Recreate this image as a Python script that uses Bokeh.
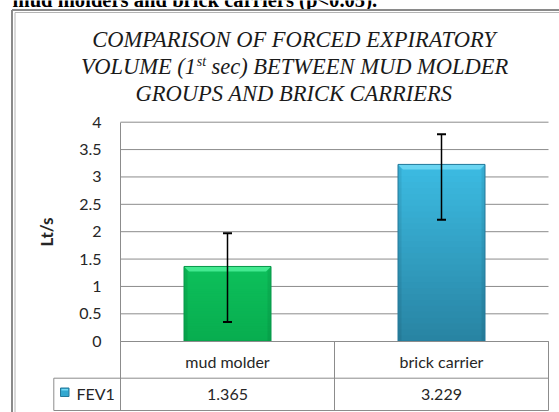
from bokeh.plotting import figure
from bokeh.models import ColumnDataSource, FixedTicker, Range1d, Whisker, TeeHead
from bokeh.core.properties import value
from bokeh.embed import file_html
from bokeh.resources import INLINE

# ---------------- data ----------------
CATEGORIES = ["mud molder", "brick carrier"]
SERIES_NAME = "FEV1"
FEV1 = [1.365, 3.229]
FEV1_LABELS = ["1.365", "3.229"]
ERR_UPPER = [1.97, 3.78]
ERR_LOWER = [0.35, 2.22]
Y_TICKS = [0, 0.5, 1, 1.5, 2, 2.5, 3, 3.5, 4]
Y_TICK_LABELS = ["0", "0.5", "1", "1.5", "2", "2.5", "3", "3.5", "4"]
Y_LABEL = "Lt/s"
TITLE_LINE1 = "COMPARISON OF FORCED EXPIRATORY"
TITLE_LINE2_A = "VOLUME (1"
TITLE_LINE2_SUP = "st"
TITLE_LINE2_B = "sec) BETWEEN MUD MOLDER"
TITLE_LINE3 = "GROUPS AND BRICK CARRIERS"
TOP_TEXT = "mud molders and brick carriers (p<0.05)."

# ---------------- layout (page pixels) ----------------
W, H = 559, 412
OX, OY = 0, 0
AX_X0 = 120.0      # page x of data x = 0
AX_Y0 = 340.7      # page y of data y = 0
PX_X = 214.0       # pixels per category
PX_Y = 54.75       # pixels per unit (Lt/s)
BASE_SHIFT = 0.34  # empirical baseline correction (fraction of font size)


def dx(px):
    return (px - AX_X0) / PX_X


def dy(py):
    return (AX_Y0 - py) / PX_Y


def ty(py, fs):
    # page baseline -> data y for text glyphs
    return dy(py - BASE_SHIFT * fs)


N = len(CATEGORIES)
X_POS = [i + 0.5 for i in range(N)]
BAR_W = 87.0 / PX_X

p = figure(width=W, height=H,
           x_range=Range1d(dx(OX), dx(OX + W)),
           y_range=Range1d(dy(OY + H), dy(OY)),
           output_backend="svg", toolbar_location=None, tools="",
           min_border=0)
p.outline_line_color = None
p.background_fill_color = "white"
p.border_fill_color = "white"
p.xgrid.visible = False
p.ygrid.visible = False

TXT = "#262626"
LINE = "#8c8c8c"
FONT = "Lato"

# ---------------- top document text (cut off) ----------------
TOP_FS = 20.6
p.text(x=[dx(12)], y=[ty(6.5, TOP_FS)], text=[TOP_TEXT], text_font=value("Liberation Serif"),
       text_font_style="bold", text_font_size=f"{TOP_FS}px", text_color="black",
       text_align="left", text_baseline="alphabetic")

# ---------------- outer frame (document chart border) ----------------
p.quad(left=[dx(11)], right=[dx(570)], top=[dy(9)], bottom=[dy(420)],
       fill_color="white", line_color=None)
p.line(x=[dx(11.5), dx(11.5)], y=[dy(9.5), dy(420)], line_color="#8a8a8a", line_width=2)
p.line(x=[dx(14.5), dx(14.5)], y=[dy(12.0), dy(420)], line_color="#b4b4b4", line_width=1)
p.line(x=[dx(11.5), dx(570)], y=[dy(9.5), dy(9.5)], line_color="#8a8a8a", line_width=2)
p.line(x=[dx(14.5), dx(570)], y=[dy(12.0), dy(12.0)], line_color="#b4b4b4", line_width=1)

# ---------------- title ----------------
TFS = 22.5
TCX = dx(293.5)
tkw = dict(text_font=value("Liberation Serif"), text_font_style="italic",
           text_color="#1a1a1a", text_baseline="alphabetic")
p.text(x=[TCX, TCX], y=[ty(46.5, TFS), ty(101, TFS)], text=[TITLE_LINE1, TITLE_LINE3],
       text_align="center", text_font_size=f"{TFS}px", **tkw)
xa_px = 195.5
p.text(x=[dx(xa_px)], y=[ty(74, TFS)], text=[TITLE_LINE2_A], text_align="right",
       text_font_size=f"{TFS}px", **tkw)
p.text(x=[dx(xa_px + 0.8)], y=[ty(66, 14)], text=[TITLE_LINE2_SUP], text_align="left",
       text_font_size="14px", **tkw)
p.text(x=[dx(xa_px + 15.5)], y=[ty(74, TFS)], text=[TITLE_LINE2_B], text_align="left",
       text_font_size=f"{TFS}px", **tkw)

# ---------------- gridlines ----------------
grid_y = [t for t in Y_TICKS if t > 0]
p.segment(x0=[0] * len(grid_y), x1=[N] * len(grid_y), y0=grid_y, y1=grid_y,
          line_color=LINE, line_width=1)

# ---------------- bars with gradient ----------------
BAR_TOP = ["#0dc05b", "#3cbce3"]
BAR_BOT = ["#08ad4f", "#2883a2"]
BAR_EDGE = ["#07984a", "#24799a"]
BEVEL = ["#4ef09a", "#72d9f5"]


def hex2rgb(h):
    h = h.lstrip("#")
    return tuple(int(h[i:i + 2], 16) for i in (0, 2, 4))


def mix(c1, c2, t):
    a, b = hex2rgb(c1), hex2rgb(c2)
    return "#%02x%02x%02x" % tuple(int(round(a[k] + (b[k] - a[k]) * t)) for k in range(3))


NS = 30
OVL = 1.5 / PX_Y
ql, qr, qb, qt, qc = [], [], [], [], []
for i, v in enumerate(FEV1):
    for k in range(NS):
        ql.append(X_POS[i] - BAR_W / 2)
        qr.append(X_POS[i] + BAR_W / 2)
        qb.append(v * k / NS)
        qt.append(min(v, v * (k + 1) / NS + OVL))
        qc.append(mix(BAR_BOT[i], BAR_TOP[i], (k + 0.5) / NS))
p.quad(left=ql, right=qr, bottom=qb, top=qt, fill_color=qc, line_color=None)

# bevel: top highlight trapezoid + darker side strips
bx = 5.0 / PX_X
by = 5.0 / PX_Y
tops_x, tops_y, sides_x, sides_y = [], [], [], []
for i, v in enumerate(FEV1):
    L, R = X_POS[i] - BAR_W / 2, X_POS[i] + BAR_W / 2
    tops_x.append([L, R, R - bx, L + bx])
    tops_y.append([v, v, v - by, v - by])
    sides_x.append([L, L + bx * 0.7, L + bx * 0.7, L])
    sides_y.append([v, v - by, 0, 0])
    sides_x.append([R, R - bx * 0.7, R - bx * 0.7, R])
    sides_y.append([v, v - by, 0, 0])
p.patches(xs=tops_x, ys=tops_y, fill_color=BEVEL, fill_alpha=0.85, line_color=None)
p.patches(xs=sides_x, ys=sides_y, fill_color="black", fill_alpha=0.07, line_color=None)
p.vbar(x=X_POS, top=FEV1, width=BAR_W, fill_color=None, line_color=BAR_EDGE, line_width=1)

# ---------------- error bars ----------------
err_src = ColumnDataSource(dict(base=X_POS, upper=ERR_UPPER, lower=ERR_LOWER))
p.add_layout(Whisker(source=err_src, base="base", upper="upper", lower="lower",
                     dimension="height", line_color="black", line_width=1.5, level="overlay",
                     upper_head=TeeHead(size=9, line_color="black", line_width=2),
                     lower_head=TeeHead(size=9, line_color="black", line_width=2)))

# ---------------- axes ----------------
ya = p.yaxis[0]
ya.fixed_location = 0
ya.bounds = (0, 4)
ya.ticker = FixedTicker(ticks=Y_TICKS)
ya.major_label_overrides = dict(zip(Y_TICKS, Y_TICK_LABELS))
ya.major_tick_line_color = None
ya.minor_tick_line_color = None
ya.major_tick_out = 0
ya.axis_line_color = LINE
ya.major_label_standoff = 19
ya.major_label_text_font = FONT
ya.major_label_text_font_size = "16px"
ya.major_label_text_color = TXT
ya.axis_label = Y_LABEL
ya.axis_label_text_font = FONT
ya.axis_label_text_font_style = "bold"
ya.axis_label_text_font_size = "17px"
ya.axis_label_text_color = TXT
ya.axis_label_standoff = 19

xa = p.xaxis[0]
xa.fixed_location = 0
xa.bounds = (0, N)
xa.ticker = FixedTicker(ticks=X_POS)
xa.major_label_overrides = dict(zip(X_POS, CATEGORIES))
xa.major_tick_line_color = None
xa.minor_tick_line_color = None
xa.major_tick_out = 0
xa.axis_line_color = LINE
xa.major_label_standoff = 11
xa.major_label_text_font = FONT
xa.major_label_text_font_size = "16px"
xa.major_label_text_color = TXT

# ---------------- data table ----------------
row_div = dy(377.7)
tbl_bot = dy(410)
leg_left = dx(53.3)
vx = [float(i) for i in range(N + 1)]
p.segment(x0=vx, x1=vx, y0=[0] * len(vx), y1=[tbl_bot] * len(vx), line_color=LINE, line_width=1)
p.segment(x0=[leg_left, leg_left, leg_left], x1=[leg_left, N, N],
          y0=[row_div, row_div, tbl_bot], y1=[tbl_bot, row_div, tbl_bot],
          line_color=LINE, line_width=1)

p.text(x=X_POS, y=[ty(399.5, 16)] * N, text=FEV1_LABELS, text_font=value(FONT),
       text_font_size="16px", text_color=TXT, text_align="center", text_baseline="alphabetic")
p.text(x=[dx(76)], y=[ty(398.5, 16)], text=[SERIES_NAME], text_font=value(FONT),
       text_font_size="16px", text_color=TXT, text_align="left", text_baseline="alphabetic")
# legend key
p.quad(left=[dx(60)], right=[dx(68.5)], bottom=[dy(396)], top=[dy(387.5)],
       fill_color="#33a8d0", line_color=BAR_EDGE[1], line_width=1)
p.quad(left=[dx(61)], right=[dx(67.5)], bottom=[dy(390)], top=[dy(388.5)],
       fill_color=BEVEL[1], line_color=None)

open("out.html", "w").write(file_html(p, INLINE))
